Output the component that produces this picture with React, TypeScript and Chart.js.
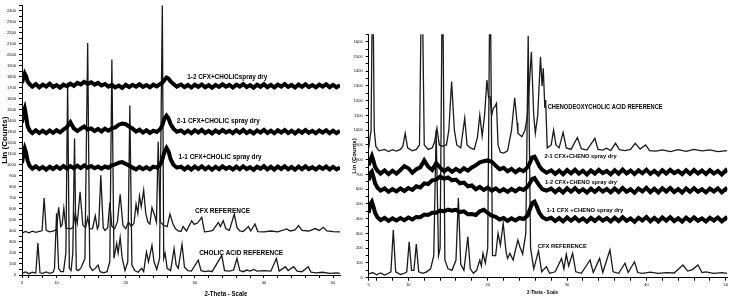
import React, { useEffect, useRef } from 'react';
import { Chart, registerables } from 'chart.js';

Chart.register(...registerables);

const FONT = '"Liberation Sans", Arial, Helvetica, sans-serif';

// ---------- shared x grids (2-Theta, degrees) for the spray-dried traces ----------
const gridLeft = [
  5, 5.2, 5.4, 5.6, 5.8, 6.1, 6.5,
  7, 7.5, 8, 8.5, 9, 9.5, 10, 10.5, 11, 11.5, 12, 12.5, 13, 13.5, 14, 14.5, 15, 15.5, 16, 16.5,
  17, 17.5, 18, 18.5, 19, 19.5, 20, 20.5, 21, 21.5, 22, 22.5, 23, 23.5, 24, 24.5, 25,
  25.3, 25.6, 25.9, 26.2, 26.5, 26.9, 27.4,
  28, 28.5, 29, 29.5, 30, 30.5, 31, 31.5, 32, 32.5, 33, 33.5, 34, 34.5, 35, 35.5, 36, 36.5, 37, 37.5,
  38, 38.5, 39, 39.5, 40, 40.5, 41, 41.5, 42, 42.5, 43, 43.5, 44, 44.5, 45, 45.5, 46, 46.5, 47, 47.5,
  48, 48.5, 49, 49.5, 50, 50.5, 51,
];
const gridRight = [
  5, 5.2, 5.4, 5.6, 5.8, 6.1, 6.5,
  7, 7.5, 8, 8.5, 9, 9.5, 10, 10.5, 11, 11.5, 12, 12.5, 13, 13.5, 14, 14.5, 15, 15.5, 16, 16.5,
  17, 17.5, 18, 18.5, 19, 19.5, 20, 20.5, 21, 21.5, 22, 22.5, 23, 23.5, 24, 24.5, 25,
  25.3, 25.6, 25.9, 26.2, 26.5, 26.9, 27.4,
  28, 28.5, 29, 29.5, 30, 30.5, 31, 31.5, 32, 32.5, 33, 33.5, 34, 34.5, 35, 35.5, 36, 36.5, 37, 37.5,
  38, 38.5, 39, 39.5, 40, 40.5, 41, 41.5, 42, 42.5, 43, 43.5, 44, 44.5, 45, 45.5, 46, 46.5, 47, 47.5,
  48, 48.5, 49, 49.5, 50, 50.2,
];

// ---------- LEFT panel: cholic acid ----------
const cholic12Spray = [
  1745, 1790, 1830, 1805, 1760, 1735, 1712,
  1735, 1706, 1730, 1712, 1738, 1708, 1726, 1703, 1730, 1715, 1738, 1720, 1746, 1732, 1755, 1736, 1752, 1730, 1746, 1722,
  1736, 1712, 1728, 1705, 1722, 1700, 1728, 1708, 1728, 1711, 1733, 1710, 1726, 1706, 1730, 1714, 1736,
  1748, 1772, 1795, 1786, 1760, 1736, 1712,
  1731, 1707, 1727, 1704, 1729, 1710, 1732, 1706, 1725, 1702, 1728, 1709, 1733, 1711, 1727, 1704, 1730, 1712, 1735, 1708,
  1726, 1703, 1729, 1710, 1734, 1707, 1728, 1705, 1730, 1712, 1735, 1709, 1727, 1704, 1731, 1710, 1733, 1708, 1726, 1705,
  1730, 1711, 1734, 1707, 1728, 1706, 1724,
];
const cholic21Spray = [
  1385, 1470, 1512, 1445, 1355, 1312, 1290,
  1315, 1290, 1312, 1288, 1314, 1292, 1316, 1296, 1322, 1345, 1388, 1332, 1308, 1330, 1350, 1322, 1332, 1308, 1328, 1305,
  1330, 1312, 1332, 1342, 1366, 1376, 1370, 1350, 1330, 1304, 1320, 1294, 1316, 1291, 1312, 1300, 1326,
  1362, 1420, 1448, 1422, 1372, 1330, 1302,
  1314, 1290, 1312, 1288, 1316, 1294, 1318, 1290, 1310, 1287, 1313, 1293, 1317, 1295, 1311, 1289, 1315, 1292, 1318, 1290,
  1309, 1286, 1314, 1294, 1319, 1291, 1312, 1288, 1315, 1295, 1318, 1290, 1311, 1287, 1314, 1293, 1317, 1292, 1310, 1288,
  1313, 1294, 1316, 1289, 1311, 1290, 1308,
];
const cholic11Spray = [
  1015, 1100, 1150, 1112, 1042, 992, 966,
  988, 962, 982, 958, 984, 963, 986, 965, 990, 968, 990, 970, 993, 972, 995, 975, 990, 970, 986, 966,
  986, 975, 996, 1006, 1020, 1026, 1010, 992, 976, 960, 982, 962, 980, 960, 985, 976, 1002,
  1050, 1118, 1155, 1122, 1052, 1002, 976,
  985, 960, 983, 958, 986, 963, 988, 961, 982, 957, 984, 962, 987, 964, 981, 959, 985, 961, 988, 963,
  980, 956, 984, 965, 989, 960, 983, 958, 986, 964, 988, 961, 981, 957, 985, 962, 987, 963, 980, 958,
  984, 965, 986, 959, 982, 960, 978,
];
const cfxRefLeft: [number, number][] = [
  [5, 380], [5.5, 396], [6, 384], [6.5, 398], [7, 388], [7.5, 396], [7.9, 402], [8.2, 700], [8.5, 406],
  [9, 392], [9.5, 398], [10, 412], [10.3, 615], [10.6, 440], [10.8, 455], [11.05, 605], [11.35, 425],
  [12, 420], [12.4, 432], [12.7, 560], [13, 470], [13.4, 756], [13.8, 455], [14.2, 430], [14.5, 520],
  [14.8, 420], [15.2, 422], [15.6, 538], [15.9, 420], [16.1, 452], [16.4, 906], [16.75, 430], [17, 404],
  [17.4, 430], [17.7, 657], [18, 442], [18.4, 420], [18.8, 482], [19.2, 733], [19.6, 452], [20, 420],
  [20.4, 480], [20.8, 442], [21.2, 470], [21.5, 643], [21.75, 560], [22, 718], [22.25, 620], [22.6, 770],
  [22.9, 560], [23.2, 482], [23.5, 462], [23.8, 613], [24.2, 538], [24.45, 480], [24.7, 1210], [25, 480],
  [25.5, 452], [26, 440], [26.4, 553], [26.8, 470], [27.2, 420], [27.6, 400], [28, 396], [28.3, 440],
  [28.8, 400], [29.55, 493], [29.9, 460], [30.4, 472], [31, 523], [31.4, 392], [32, 396], [32.6, 406],
  [33.4, 478], [33.7, 440], [34.1, 493], [34.5, 420], [35, 406], [35.7, 553], [36.1, 430], [36.5, 400],
  [37, 395], [37.75, 440], [38.1, 400], [38.7, 464], [39.1, 395], [40, 392], [41, 400], [42, 392],
  [43.3, 419], [43.8, 400], [44.5, 410], [45, 449], [45.5, 405], [46.5, 400], [47.4, 422], [48, 405],
  [48.6, 433], [49.1, 400], [50, 395], [51, 392],
];
const cholicRef: [number, number][] = [
  [5, 15], [5.5, 28], [6, 12], [6.5, 25], [7, 18], [7.3, 290], [7.6, 20], [8, 15], [8.5, 28], [9, 15],
  [9.5, 25], [9.7, 60], [10, 560], [10.3, 60], [10.6, 30], [11, 30], [11.35, 200], [11.6, 1750],
  [11.85, 60], [12.1, 40], [12.35, 200], [12.6, 1240], [12.85, 50], [13.1, 40], [13.5, 60], [14.1, 150],
  [14.5, 2108], [14.8, 80], [15.2, 40], [15.6, 60], [16, 90], [16.3, 30], [16.8, 20], [17.3, 30],
  [17.7, 120], [18, 1958], [18.3, 150], [18.7, 287], [18.9, 200], [19.2, 340], [19.5, 150], [19.9, 40],
  [20.3, 120], [20.6, 1540], [20.9, 90], [21.3, 40], [21.8, 25], [22.3, 60], [22.6, 30], [23, 209],
  [23.3, 120], [23.8, 269], [24.1, 120], [24.5, 50], [24.9, 150], [25.3, 2460], [25.5, 150], [25.7, 197],
  [26, 60], [26.5, 40], [27, 240], [27.3, 90], [27.6, 60], [28.15, 280], [28.5, 70], [29, 40], [29.5, 35],
  [30.5, 135], [30.9, 40], [31.5, 30], [32, 38], [32.5, 30], [33.9, 179], [34.3, 40], [35, 35], [35.6, 45],
  [36.1, 150], [36.5, 40], [37, 30], [37.5, 45], [38, 35], [38.5, 50], [39, 35], [40, 40], [41, 35],
  [41.8, 150], [42.2, 35], [43.1, 75], [43.5, 40], [44.3, 75], [44.8, 35], [45.5, 30], [46.4, 75],
  [46.8, 25], [47.5, 20], [48.5, 25], [49.5, 15], [50.5, 20], [51, 15],
];

// ---------- RIGHT panel: chenodeoxycholic acid ----------
const cheno21Spray = [
  760, 800, 825, 792, 752, 726, 706,
  728, 702, 725, 705, 730, 756, 742, 712, 735, 748, 795, 752, 730, 776, 746, 722, 740, 718, 738, 720,
  742, 726, 748, 762, 782, 790, 795, 786, 760, 735, 745, 722, 738, 715, 735, 722, 748,
  776, 815, 820, 790, 756, 730, 712,
  728, 704, 726, 702, 730, 708, 732, 705, 725, 700, 727, 706, 731, 709, 724, 701, 729, 705, 733, 707,
  726, 703, 728, 708, 732, 704, 725, 700, 729, 706, 731, 709, 724, 702, 728, 705, 730, 707, 726, 703,
  729, 706, 724, 700, 727, 712,
];
const cheno12Spray = [
  660, 708, 720, 682, 640, 610, 590,
  605, 582, 600, 585, 605, 588, 608, 595, 620, 612, 640, 635, 660, 665, 685, 670, 680, 660, 665, 640,
  645, 620, 625, 600, 615, 595, 610, 590, 605, 585, 600, 582, 602, 585, 605, 595, 615,
  640, 668, 675, 650, 625, 600, 590,
  604, 580, 602, 578, 606, 583, 607, 581, 600, 577, 603, 582, 606, 584, 601, 579, 605, 581, 608, 583,
  600, 576, 604, 585, 609, 580, 603, 578, 606, 584, 608, 581, 601, 577, 605, 582, 607, 583, 600, 578,
  604, 585, 606, 579, 602, 590,
];
const cheno11Spray = [
  440, 498, 515, 482, 440, 410, 390,
  405, 385, 402, 388, 405, 390, 408, 395, 412, 410, 428, 425, 440, 440, 455, 450, 462, 455, 460, 445,
  450, 430, 432, 425, 450, 460, 440, 420, 412, 395, 405, 385, 402, 388, 405, 398, 420,
  460, 505, 515, 480, 440, 410, 395,
  406, 384, 404, 382, 408, 386, 409, 384, 402, 380, 405, 385, 408, 387, 403, 382, 407, 384, 410, 386,
  402, 379, 406, 388, 411, 383, 405, 381, 408, 387, 410, 384, 403, 380, 407, 385, 409, 386, 402, 381,
  406, 388, 408, 382, 404, 392,
];
const chenoRef: [number, number][] = [
  [5, 880], [5.3, 1000], [5.5, 2200], [5.7, 1000], [5.9, 890], [6.3, 860], [7, 870], [7.5, 855], [8, 868],
  [8.5, 858], [9, 870], [9.3, 890], [9.6, 979], [9.9, 880], [10.5, 860], [11, 870], [11.4, 900],
  [11.7, 2200], [12, 900], [12.5, 870], [13, 880], [13.3, 920], [13.6, 1013], [13.9, 900], [14.3, 890],
  [14.8, 900], [15.1, 1000], [15.45, 1329], [15.8, 1000], [16.1, 900], [16.6, 880], [17.1, 1081],
  [17.4, 900], [17.8, 880], [18.3, 870], [18.7, 950], [19, 1103], [19.3, 960], [19.6, 1100], [19.9, 1340],
  [20.1, 1225], [20.3, 1225], [20.5, 1100], [20.7, 1150], [20.9, 1159], [21.1, 1182], [21.3, 900],
  [21.6, 850], [22, 845], [22.5, 860], [23, 1000], [23.4, 1220], [23.7, 1050], [23.8, 980], [24.3, 956],
  [24.7, 1000], [25, 1100], [25.5, 1530], [25.8, 1100], [26, 980], [26.3, 1100], [26.65, 1498],
  [26.85, 1300], [27, 1420], [27.2, 1150], [27.3, 1205], [27.5, 880], [28, 900], [28.3, 1001], [28.6, 900],
  [29, 880], [29.5, 985], [29.9, 880], [30.5, 870], [31.3, 950], [31.8, 875], [32.5, 865], [33.5, 945],
  [33.9, 870], [34.5, 865], [35, 878], [35.5, 862], [36.1, 911], [36.6, 868], [37.3, 862], [38, 870],
  [38.6, 911], [39.2, 872], [39.9, 900], [40.4, 862], [41.2, 858], [42, 866], [43, 855], [44, 868],
  [45, 856], [46, 870], [47, 860], [48, 866], [49, 855], [50.2, 862],
];
const cfxRefRight: [number, number][] = [
  [5, 25], [5.5, 35], [6, 20], [6.5, 32], [7, 18], [7.5, 30], [7.8, 40], [8.1, 323], [8.4, 40], [9, 22],
  [9.5, 30], [9.8, 40], [10.1, 244], [10.4, 50], [10.7, 50], [11, 228], [11.3, 40], [11.8, 30], [12.3, 40],
  [12.8, 60], [13.2, 150], [13.5, 1000], [13.8, 150], [14, 200], [14.3, 2200], [14.6, 120], [15, 60],
  [15.5, 50], [16, 120], [16.3, 540], [16.6, 90], [17, 50], [17.5, 278], [17.8, 60], [18.2, 30], [18.6, 50],
  [19, 120], [19.2, 80], [19.4, 165], [19.7, 100], [20, 200], [20.3, 2200], [20.6, 150], [21, 150],
  [21.3, 301], [21.6, 220], [21.95, 369], [22.3, 180], [22.5, 130], [22.8, 165], [23.2, 120], [23.8, 256],
  [24.05, 210], [24.4, 160], [24.8, 300], [25.1, 1640], [25.4, 200], [25.8, 60], [26.4, 182], [26.8, 40],
  [27.4, 75], [27.8, 30], [28.5, 40], [29.3, 131], [29.6, 60], [29.9, 158], [30.2, 80], [30.7, 165],
  [31.1, 40], [31.8, 30], [32.9, 120], [33.3, 35], [34.1, 131], [34.5, 35], [35.4, 188], [35.8, 40],
  [36.5, 30], [37.3, 98], [37.7, 35], [38.5, 108], [38.9, 35], [39.5, 30], [40.5, 38], [41.5, 30],
  [42.5, 35], [43.5, 32], [44.6, 86], [45.2, 45], [45.8, 55], [46.5, 86], [47, 35], [47.5, 40], [48.5, 30],
  [49.5, 35], [50.2, 30],
];

// ---------- axis ticks ----------
const xTickValues = [5, 6, 8, 10, 12, 14, 16, 18, 20, 22, 24, 26, 28, 30, 32, 34, 36, 38, 40, 42, 44, 46, 48, 50];
const xLabelValues = [5, 10, 20, 30, 40, 50];

// ---------- text annotations (data coordinates) ----------
type Lbl = { text: string; x: number; y: number; width: number; size: number };
const leftLabels: Lbl[] = [
  { text: '1-2 CFX+CHOLICspray dry', x: 34.7, y: 1803, width: 80, size: 7 },
  { text: '2-1 CFX+CHOLIC spray dry', x: 33.4, y: 1397, width: 83, size: 7 },
  { text: '1-1 CFX+CHOLIC spray dry', x: 33.65, y: 1076, width: 83, size: 7 },
  { text: 'CFX REFERENCE', x: 34.0, y: 583, width: 55, size: 7 },
  { text: 'CHOLIC ACID REFERENCE', x: 36.7, y: 195, width: 84, size: 7 },
];
const rightLabels: Lbl[] = [
  { text: 'CHENODEOXYCHOLIC ACID REFERENCE', x: 34.8, y: 1159, width: 115, size: 7 },
  { text: '2-1 CFX+CHENO spray dry', x: 31.7, y: 825, width: 72, size: 6 },
  { text: '1-2 CFX+CHENO spray dry', x: 31.75, y: 644, width: 72, size: 6 },
  { text: '1-1 CFX +CHENO spray dry', x: 32.25, y: 454, width: 77, size: 6 },
  { text: 'CFX REFERENCE', x: 29.4, y: 215, width: 49, size: 6 },
];

type Title = { text: string; x: number; width: number; size: number; bottom: number };

function textPlugin(labels: Lbl[], title: Title) {
  return {
    id: 'xrdText',
    afterDraw(chart: any) {
      const { ctx, scales } = chart;
      const xs = scales.x;
      const ys = scales.y;
      ctx.save();
      ctx.fillStyle = '#000';
      ctx.textAlign = 'center';
      ctx.textBaseline = 'middle';
      for (const l of labels) {
        ctx.font = `bold ${l.size}px ${FONT}`;
        ctx.fillText(l.text, xs.getPixelForValue(l.x), ys.getPixelForValue(l.y), l.width);
      }
      ctx.font = `bold ${title.size}px ${FONT}`;
      ctx.fillText(title.text, xs.getPixelForValue(title.x), chart.height - title.bottom, title.width);
      ctx.restore();
    },
  };
}

const onGrid = (grid: number[], ys: number[]) => grid.map((x, i) => ({ x, y: ys[i] }));
const fromPairs = (p: [number, number][]) => p.map(([x, y]) => ({ x, y }));

function trace(data: { x: number; y: number }[], width: number, color: string) {
  return {
    data,
    borderColor: color,
    borderWidth: width,
    borderJoinStyle: 'miter',
    pointRadius: 0,
    fill: false,
    tension: 0,
  };
}

type PanelCfg = {
  datasets: any[];
  xMax: number;
  yMax: number;
  yWidth: number;
  xHeight: number;
  padTop: number;
  padRight: number;
  tickFont: number;
  titleFont: number;
  titlePad: number;
};

function buildConfig(p: PanelCfg, plugin: any) {
  const axisCommon = {
    grid: { drawOnChartArea: false, drawTicks: true, tickLength: 3, color: '#000', lineWidth: 1 },
    border: { display: true, color: '#000', width: 1 },
  };
  return {
    type: 'line',
    data: { datasets: p.datasets },
    options: {
      responsive: false,
      animation: false,
      devicePixelRatio: 1,
      layout: { padding: { top: p.padTop, right: p.padRight, bottom: 0, left: 0 } },
      plugins: { legend: { display: false }, tooltip: { enabled: false } },
      scales: {
        x: {
          type: 'linear',
          min: 5,
          max: p.xMax,
          afterFit: (s: any) => {
            s.height = p.xHeight;
          },
          afterBuildTicks: (s: any) => {
            s.ticks = xTickValues.map((v) => ({ value: v }));
          },
          ticks: {
            autoSkip: false,
            maxRotation: 0,
            padding: 2,
            color: '#000',
            font: { size: p.tickFont, family: FONT },
            callback: (v: number) => (xLabelValues.includes(v) ? String(v) : ''),
          },
          ...axisCommon,
        },
        y: {
          min: 0,
          max: p.yMax,
          afterFit: (s: any) => {
            s.width = p.yWidth;
          },
          ticks: {
            stepSize: 50,
            autoSkip: false,
            padding: 3,
            color: '#000',
            font: { size: p.tickFont, family: FONT },
            callback: (v: number) => (v % 100 === 0 ? String(v) : ''),
          },
          title: {
            display: true,
            text: 'Lin (Counts)',
            color: '#000',
            font: { size: p.titleFont, weight: 'bold', family: FONT },
            padding: { top: p.titlePad, bottom: 0 },
          },
          ...axisCommon,
        },
      },
    },
    plugins: [plugin],
  };
}

export default function App() {
  const leftRef = useRef<HTMLCanvasElement | null>(null);
  const rightRef = useRef<HTMLCanvasElement | null>(null);

  useEffect(() => {
    const traceCol = '#000';
    const refCol = '#1a1a1a';
    const left = new Chart(
      leftRef.current as HTMLCanvasElement,
      buildConfig(
        {
          datasets: [
            trace(onGrid(gridLeft, cholic12Spray), 4, traceCol),
            trace(onGrid(gridLeft, cholic21Spray), 4, traceCol),
            trace(onGrid(gridLeft, cholic11Spray), 4, traceCol),
            trace(fromPairs(cfxRefLeft), 1.3, refCol),
            trace(fromPairs(cholicRef), 1.3, refCol),
          ],
          xMax: 51,
          yMax: 2450,
          yWidth: 22,
          xHeight: 22,
          padTop: 2,
          padRight: 4,
          tickFont: 4,
          titleFont: 8,
          titlePad: 0,
        },
        textPlugin(leftLabels, { text: '2-Theta - Scale', x: 34.5, width: 43, size: 6.5, bottom: 3 })
      ) as any
    );
    const right = new Chart(
      rightRef.current as HTMLCanvasElement,
      buildConfig(
        {
          datasets: [
            trace(fromPairs(chenoRef), 1.3, refCol),
            trace(onGrid(gridRight, cheno21Spray), 4, traceCol),
            trace(onGrid(gridRight, cheno12Spray), 4, traceCol),
            trace(onGrid(gridRight, cheno11Spray), 4, traceCol),
            trace(fromPairs(cfxRefRight), 1.3, refCol),
          ],
          xMax: 50.2,
          yMax: 1650,
          yWidth: 22.7,
          xHeight: 19.3,
          padTop: 34.3,
          padRight: 2.4,
          tickFont: 4,
          titleFont: 6,
          titlePad: 4.6,
        },
        textPlugin(rightLabels, { text: '2-Theta - Scale', x: 26.9, width: 31, size: 5.5, bottom: 4.5 })
      ) as any
    );
    return () => {
      left.destroy();
      right.destroy();
    };
  }, []);

  return (
    <div style={{ position: 'fixed', left: 0, top: 0, width: 730, height: 297, background: '#fff' }}>
      <canvas
        ref={leftRef}
        width={344}
        height={297}
        style={{ position: 'absolute', left: 0, top: 0, width: 344, height: 297 }}
      />
      <canvas
        ref={rightRef}
        width={384}
        height={297}
        style={{ position: 'absolute', left: 346, top: 0, width: 384, height: 297 }}
      />
    </div>
  );
}
